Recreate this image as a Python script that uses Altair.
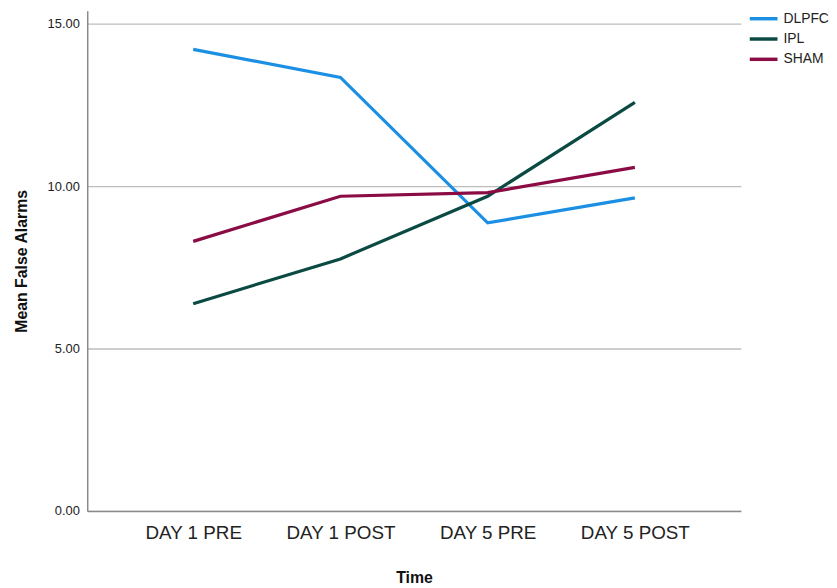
import altair as alt
import pandas as pd

times = ["DAY 1 PRE", "DAY 1 POST", "DAY 5 PRE", "DAY 5 POST"]
groups = ["DLPFC", "IPL", "SHAM"]
dlpfc = [14.21, 13.35, 8.87, 9.64]
ipl = [6.38, 7.76, 9.69, 12.58]
sham = [8.30, 9.69, 9.80, 10.58]
colors = ["#1a8fe3", "#0b4a43", "#8b0b45"]

rows = []
for g, vals in zip(groups, [dlpfc, ipl, sham]):
    for t, v in zip(times, vals):
        rows.append({"Time": t, "Group": g, "Value": v})
df = pd.DataFrame(rows)

chart = alt.Chart(df).mark_line(strokeWidth=3.2).encode(
    x=alt.X("Time:N", sort=times,
            scale=alt.Scale(type="point", padding=0.72),
            axis=alt.Axis(title="Time", labelAngle=0, ticks=False, grid=False,
                          labelFontSize=19, labelFont="Liberation Sans",
                          labelColor="#222222", labelPadding=13,
                          titleFontSize=16, titleFont="Liberation Sans",
                          titleFontWeight="bold", titleColor="#111111",
                          titleY=67, titleBaseline="middle",
                          domainColor="#8a8a8a", domainWidth=1.5)),
    y=alt.Y("Value:Q", scale=alt.Scale(domain=[0, 15.4], nice=False),
            axis=alt.Axis(title="Mean False Alarms", values=[0, 5, 10, 15],
                          format=".2f", ticks=False, grid=True,
                          gridColor="#bdbdbd", gridWidth=1.3,
                          labelFontSize=13, labelFont="Liberation Sans",
                          labelColor="#222222", labelPadding=8,
                          titleFontSize=16, titleFont="Liberation Sans",
                          titleFontWeight="bold", titleColor="#111111",
                          titleX=-66, titleBaseline="middle",
                          domainColor="#8a8a8a", domainWidth=1.5)),
    color=alt.Color("Group:N", sort=groups,
                    scale=alt.Scale(domain=groups, range=colors),
                    legend=alt.Legend(title=None, orient="none",
                                      legendX=674, legendY=-1,
                                      symbolType="M-2,0H2", symbolSize=196,
                                      symbolStrokeWidth=3.5,
                                      labelFontSize=14, labelFont="Liberation Sans",
                                      labelColor="#222222", rowPadding=4.5,
                                      labelOffset=11)),
).properties(
    width=660, height=505,
    autosize=alt.AutoSizeParams(type="none"),
    padding={"left": 80, "top": 0, "right": 89, "bottom": 72},
).configure_view(stroke=None)

chart.save("out.html", embed_options={"renderer": "svg", "actions": False})
